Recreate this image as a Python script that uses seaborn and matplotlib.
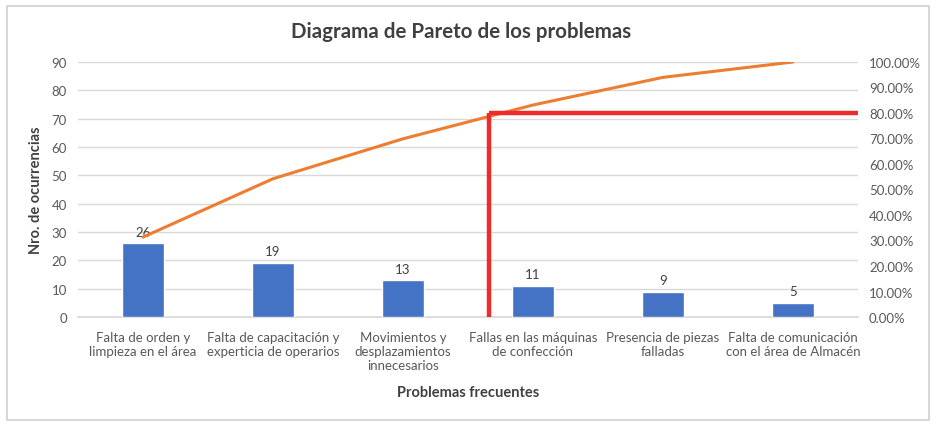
import matplotlib
matplotlib.use('Agg')

import matplotlib.pyplot as plt
import numpy as np
import pandas as pd
import seaborn as sns
from matplotlib.patches import Rectangle
from matplotlib.ticker import FuncFormatter

# ── Data ─────────────────────────────────────────────────────────────────────

CATEGORIES = [
    'Falta de orden y\nlimpieza en el área',
    'Falta de capacitación y\nexperticia de operarios',
    'Movimientos y\ndesplazamientos\ninnecesarios',
    'Fallas en las máquinas\nde confección',
    'Presencia de piezas\nfalladas',
    'Falta de comunicación\ncon el área de Almacén',
]
OCCURRENCES = [26, 19, 13, 11, 9, 5]
CUTOFF_PCT  = 80      # Pareto 80 % reference
CUTOFF_X    = 2.66    # where the red marker was drawn (category position)

LEFT_TICKS  = list(range(0, 100, 10))
RIGHT_TICKS = list(range(0, 110, 10))

# ── Style ────────────────────────────────────────────────────────────────────

BAR_COLOR  = '#4472C4'
LINE_COLOR = '#ED7D31'
RED        = '#EE2B2B'
TEXT_DARK  = '#404040'
TEXT_TICK  = '#595959'
GRID_COLOR = '#D9D9D9'

sns.set_theme(style='white')
plt.rcParams['font.family'] = ['Lato', 'DejaVu Sans']

df = pd.DataFrame({'Problema': CATEGORIES, 'Ocurrencias': OCCURRENCES})
df['Acumulado'] = df['Ocurrencias'].cumsum() / df['Ocurrencias'].sum() * 100
df['pos'] = np.arange(len(df))

fig = plt.figure(figsize=(9.4, 4.31), dpi=100)
ax = fig.add_axes([78 / 940, 1 - 318 / 431, (858 - 78) / 940, (318 - 63) / 431])

# outer chart border
fig.patches.append(Rectangle((7 / 940, 1 - 421 / 431), 922 / 940, 414 / 431,
                             transform=fig.transFigure, fill=False,
                             edgecolor='#D0D0D0', linewidth=1.2))

sns.barplot(data=df, x='Problema', y='Ocurrencias', color=BAR_COLOR,
            width=0.32, saturation=1, ax=ax, zorder=3)
for i, v in enumerate(OCCURRENCES):
    ax.text(i, v + 2, str(v), ha='center', va='bottom', fontsize=9.5, color=TEXT_DARK)

ax.set_ylim(0, 90)
ax.set_xlim(-0.5, len(CATEGORIES) - 0.5)
ax.set_yticks(LEFT_TICKS)
ax.grid(axis='y', color=GRID_COLOR, linewidth=1, zorder=0)
ax.tick_params(axis='both', length=0, colors=TEXT_TICK, labelsize=9.5, pad=8)
ax.tick_params(axis='x', labelsize=9.5, pad=10)
for s in ['top', 'right', 'left']:
    ax.spines[s].set_visible(False)
ax.spines['bottom'].set_color(GRID_COLOR)
ax.set_xlabel('Problemas frecuentes', fontsize=10.5, fontweight='bold',
              color=TEXT_DARK, labelpad=10)
ax.set_ylabel('Nro. de ocurrencias', fontsize=10.5, fontweight='bold',
              color=TEXT_DARK, labelpad=6)

ax2 = ax.twinx()
sns.lineplot(data=df, x='pos', y='Acumulado', color=LINE_COLOR, linewidth=2.2,
             ax=ax2, zorder=4)
ax2.set_ylim(0, 100)
ax2.set_yticks(RIGHT_TICKS)
ax2.yaxis.set_major_formatter(FuncFormatter(lambda v, _: f'{v:.2f}%'))
ax2.tick_params(axis='y', length=0, colors=TEXT_TICK, labelsize=9.5, pad=8)
ax2.set_ylabel('')
ax2.set_xlabel('')
for s in ax2.spines.values():
    s.set_visible(False)

# Pareto cut-off marker
ax2.plot([CUTOFF_X, CUTOFF_X], [0, CUTOFF_PCT], color=RED, linewidth=3.2,
         solid_capstyle='butt', zorder=5)
ax2.plot([CUTOFF_X, len(CATEGORIES) - 0.5], [CUTOFF_PCT, CUTOFF_PCT], color=RED,
         linewidth=3.2, solid_capstyle='butt', zorder=5)
ax2.set_xlim(-0.5, len(CATEGORIES) - 0.5)

fig.text(461 / 940, 1 - 32 / 431, 'Diagrama de Pareto de los problemas',
         ha='center', va='center', fontsize=14.8, fontweight='bold', color=TEXT_DARK)

fig.savefig('out.png', dpi=100)
